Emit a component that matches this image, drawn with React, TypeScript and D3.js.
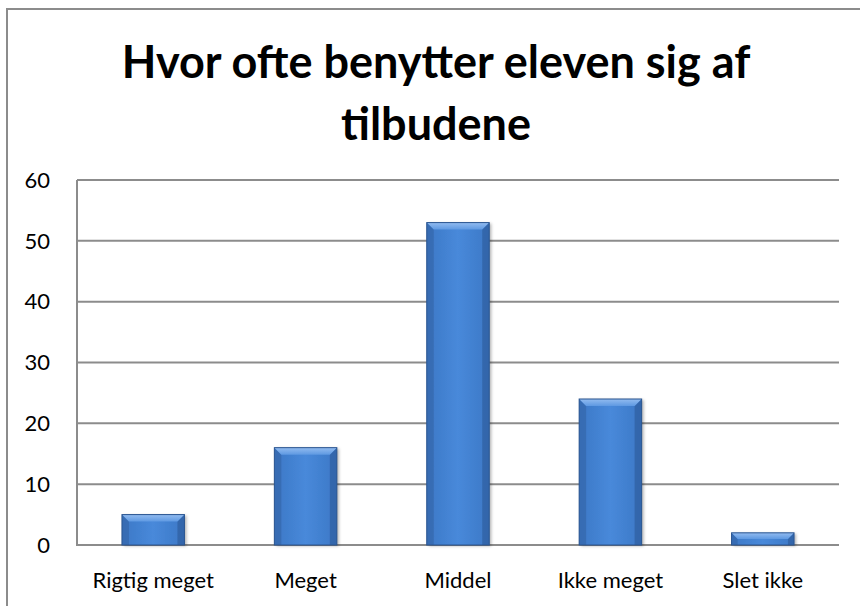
import * as d3 from 'd3';
import React from "react";

const WIDTH = 860;
const HEIGHT = 606;

const categories = ["Rigtig meget", "Meget", "Middel", "Ikke meget", "Slet ikke"];
const values = [5, 16, 53, 24, 2];
const yTicks = [0, 10, 20, 30, 40, 50, 60];
const titleLines = ["Hvor ofte benytter eleven sig af", "tilbudene"];

const FONT = "Lato, 'Open Sans', sans-serif";
const BEVEL = 7;

const App: React.FC = () => {
    const x = d3.scaleBand<string>()
        .domain(categories)
        .range([77, 839])
        .paddingInner(0.59)
        .paddingOuter(0.295);
    const y = d3.scaleLinear().domain([0, 60]).range([545, 180]);

    return (
        <svg width={WIDTH} height={HEIGHT} style={{position: "absolute", left: 0, top: 0}}>
            <defs>
                <linearGradient id="barFill" x1="0" y1="0" x2="1" y2="0">
                    <stop offset="0" stopColor="#3c78c6"/>
                    <stop offset="0.5" stopColor="#4889da"/>
                    <stop offset="1" stopColor="#3c78c6"/>
                </linearGradient>
                <linearGradient id="topFill" x1="0" y1="0" x2="0" y2="1">
                    <stop offset="0" stopColor="#93bcf0"/>
                    <stop offset="1" stopColor="#5e99e2"/>
                </linearGradient>
                <filter id="shadow" x="-20%" y="-20%" width="140%" height="140%">
                    <feDropShadow dx="2" dy="1" stdDeviation="1.5" floodColor="#000" floodOpacity="0.3"/>
                </filter>
            </defs>
            <rect x={7} y={9} width={WIDTH} height={HEIGHT} fill="#fff" stroke="#8c8c8c" strokeWidth={2}/>

            {titleLines.map((t, i) => (
                <text key={t} x={436} y={78 + i * 62} textAnchor="middle" fontFamily={FONT}
                      fontWeight="bold" fontSize={45} fill="#000">{t}</text>
            ))}

            {yTicks.map(t => (
                <g key={t}>
                    <line x1={77} x2={839} y1={y(t)} y2={y(t)} stroke="#8c8c8c" strokeWidth={2}/>
                    <text x={50} y={y(t)} dy="0.35em" textAnchor="end" fontFamily={FONT} fontSize={22}>{t}</text>
                </g>
            ))}
            <line x1={77} x2={77} y1={180} y2={546} stroke="#8c8c8c" strokeWidth={2}/>

            {categories.map((c, i) => {
                const bx = x(c)!;
                const bw = x.bandwidth();
                const by = y(values[i]);
                const bh = y(0) - by;
                const b = Math.min(BEVEL, bh / 2);
                return (
                    <g key={c}>
                        <rect x={bx} y={by} width={bw} height={bh} fill="url(#barFill)" filter="url(#shadow)"/>
                        <polygon points={`${bx},${by} ${bx + b},${by + b} ${bx + b},${by + bh} ${bx},${by + bh}`}
                                 fill="#3566ab" opacity={0.7}/>
                        <polygon points={`${bx + bw},${by} ${bx + bw - b},${by + b} ${bx + bw - b},${by + bh} ${bx + bw},${by + bh}`}
                                 fill="#2f5e9f" opacity={0.7}/>
                        <polygon points={`${bx},${by} ${bx + bw},${by} ${bx + bw - b},${by + b} ${bx + b},${by + b}`}
                                 fill="url(#topFill)"/>
                        <rect x={bx} y={by} width={bw} height={bh} fill="none" stroke="#2b5590" strokeWidth={1}/>
                    </g>
                );
            })}

            {categories.map(c => (
                <text key={c} x={x(c)! + x.bandwidth() / 2} y={588} textAnchor="middle"
                      fontFamily={FONT} fontSize={22}>{c}</text>
            ))}
        </svg>
    );
};

export default App;
